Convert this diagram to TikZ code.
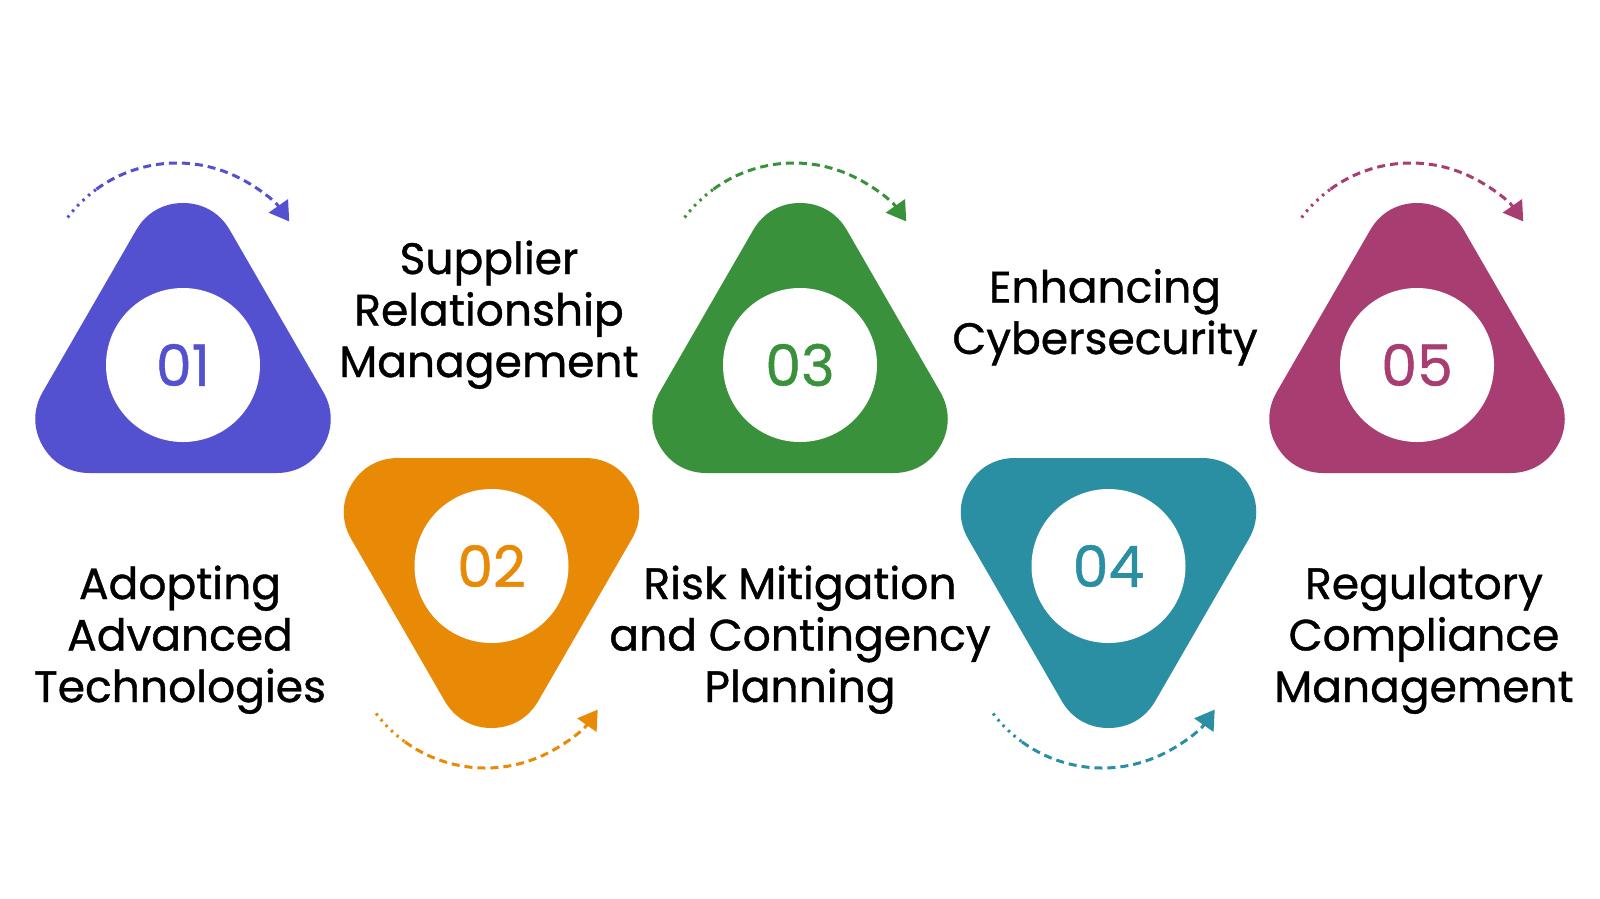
\documentclass[tikz,border=0pt]{standalone}
\usepackage{fontspec}
\setmainfont{Poppins}
\newfontfamily\lab[BoldFont=Poppins,BoldFeatures={FakeBold=0.9}]{Poppins}
\newfontfamily\numf[BoldFont=Poppins,BoldFeatures={FakeBold=0.8}]{Poppins}
\usetikzlibrary{arrows.meta}
\definecolor{cA}{HTML}{5451D0}
\definecolor{cB}{HTML}{E88A06}
\definecolor{cC}{HTML}{3A913B}
\definecolor{cD}{HTML}{2A8FA3}
\definecolor{cE}{HTML}{A83D72}
\tikzset{
  tri/.style={line width=108pt, line join=round},
  hole/.style={fill=white},
  num/.style={font=\numf\bfseries\fontsize{57}{60}\selectfont, inner sep=0pt},
  lbl/.style={font=\lab\bfseries\fontsize{44}{51.5}\selectfont, align=center, inner sep=0pt, anchor=base},
  dotty/.style={line width=3pt, dash pattern=on 2.5pt off 5pt},
  dashy/.style={line width=3pt, dash pattern=on 8pt off 5pt, -{Triangle[length=19pt,width=23pt]}}
}
\begin{document}
\begin{tikzpicture}[x=1pt,y=-1pt]
\useasboundingbox (0,0) rectangle (1600,898);
\fill[white] (0,0) rectangle (1600,898);
% centres
\coordinate (c1) at (183,365);
\coordinate (c2) at (491.5,566);
\coordinate (c3) at (800,365);
\coordinate (c4) at (1108.5,566);
\coordinate (c5) at (1417,365);
% up triangles
\foreach \c/\col in {c1/cA,c3/cC,c5/cE}{
  \filldraw[tri, draw=\col, fill=\col] ([shift={(270:108)}]\c) -- ([shift={(30:108)}]\c) -- ([shift={(150:108)}]\c) -- cycle;
  \fill[hole] (\c) circle[radius=77];
  \coordinate (a) at ([shift={(-6,-65)}]\c);
  \draw[dotty, draw=\col] ([shift={(217:137)}]a) arc[start angle=217, end angle=234, radius=137];
  \draw[dashy, draw=\col] ([shift={(234:137)}]a) arc[start angle=234, end angle=325, radius=137];
}
% down triangles
\foreach \c/\col in {c2/cB,c4/cD}{
  \filldraw[tri, draw=\col, fill=\col] ([shift={(90:108)}]\c) -- ([shift={(210:108)}]\c) -- ([shift={(330:108)}]\c) -- cycle;
  \fill[hole] (\c) circle[radius=77];
  \coordinate (a) at ([shift={(-6,65)}]\c);
  \draw[dotty, draw=\col] ([shift={(143:137)}]a) arc[start angle=143, end angle=126, radius=137];
  \draw[dashy, draw=\col] ([shift={(126:137)}]a) arc[start angle=126, end angle=35, radius=137];
}
% numbers
\node[num, text=cA] (n1) at (c1) {01};
\node[num, text=cB] (n2) at (c2) {02};
\node[num, text=cC] (n3) at (c3) {03};
\node[num, text=cD] (n4) at (c4) {04};
\node[num, text=cE] (n5) at (c5) {05};
% labels (anchor = baseline of last line)
\node[lbl] (l1) at (180,702) {Adopting\\Advanced\\Technologies};
\node[lbl] (l2) at (489,377) {Supplier\\Relationship\\Management};
\node[lbl] (l3) at (800,702) {Risk Mitigation\\and Contingency\\Planning};
\node[lbl] (l4) at (1105,354) {Enhancing\\Cybersecurity};
\node[lbl] (l5) at (1424,702) {Regulatory\\Compliance\\Management};
\end{tikzpicture}
\end{document}
